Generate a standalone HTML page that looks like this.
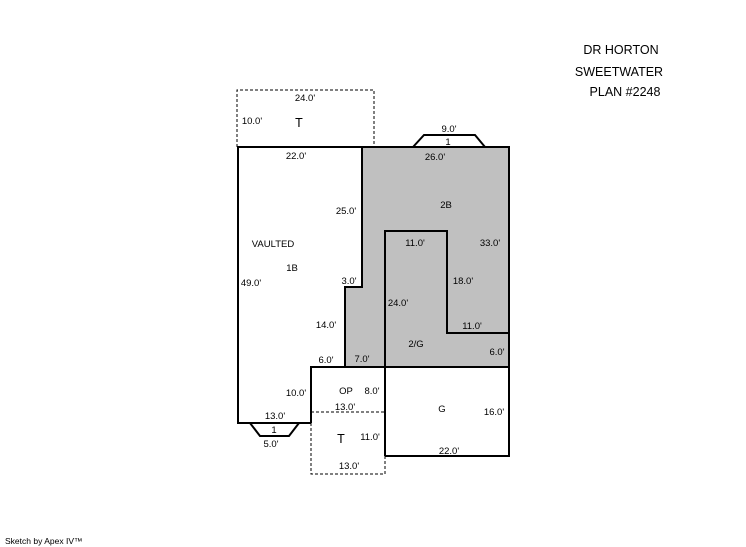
<!DOCTYPE html>
<html><head><meta charset="utf-8"><style>
html,body{margin:0;padding:0;background:#fff;width:746px;height:547px;overflow:hidden}
svg{display:block}
text{font-family:"Liberation Sans",Arial,sans-serif;font-size:9.5px;fill:#000;text-anchor:middle}
.t{font-size:12.5px}
</style></head><body>
<svg width="746" height="547" viewBox="0 0 746 547">
<path d="M362,147 H509 V367 H345 V287 H362 Z" fill="#c0c0c0"/>
<g fill="none" stroke="#000" stroke-width="2">
<path d="M311,423 H238 V147 H509 V456 H385"/>
<path d="M362,147 V287 H345 V367"/>
<path d="M311,423 V367 H509"/>
<path d="M385,367 V456"/>
<path d="M385,367 V231 H447 V333 H509"/>
<path d="M413,147 L424,135 H475 L485,147"/>
<path d="M250,423 L260,436 H289 L299,423"/>
</g>
<g fill="none" stroke="#000" stroke-width="1" stroke-dasharray="3,2">
<path d="M237,147 V90 H374 V147"/>
<path d="M311,412 H385"/>
<path d="M311,423 V474 H385 V456"/>
</g>
<text class="t" x="621" y="54">DR HORTON</text>
<text class="t" x="619" y="76">SWEETWATER</text>
<text class="t" x="625" y="96">PLAN #2248</text>
<text x="305" y="101">24.0'</text>
<text x="252" y="124">10.0'</text>
<text class="t" x="299" y="127">T</text>
<text x="449" y="132">9.0'</text>
<text x="448" y="145">1</text>
<text x="296" y="159">22.0'</text>
<text x="435" y="160">26.0'</text>
<text x="446" y="208">2B</text>
<text x="346" y="214">25.0'</text>
<text x="273" y="247">VAULTED</text>
<text x="415" y="246">11.0'</text>
<text x="490" y="246">33.0'</text>
<text x="292" y="271">1B</text>
<text x="251" y="286">49.0'</text>
<text x="349" y="284">3.0'</text>
<text x="463" y="284">18.0'</text>
<text x="398" y="306">24.0'</text>
<text x="326" y="328">14.0'</text>
<text x="472" y="329">11.0'</text>
<text x="416" y="347">2/G</text>
<text x="497" y="355">6.0'</text>
<text x="326" y="363">6.0'</text>
<text x="362" y="362">7.0'</text>
<text x="346" y="394">OP</text>
<text x="372" y="394">8.0'</text>
<text x="296" y="396">10.0'</text>
<text x="345" y="410">13.0'</text>
<text x="442" y="412">G</text>
<text x="494" y="415">16.0'</text>
<text x="275" y="419">13.0'</text>
<text x="274" y="433">1</text>
<text x="271" y="447">5.0'</text>
<text class="t" x="341" y="443">T</text>
<text x="370" y="440">11.0'</text>
<text x="449" y="454">22.0'</text>
<text x="349" y="469">13.0'</text>
<text x="5" y="544" style="text-anchor:start;font-size:8.5px">Sketch by Apex IV™</text>
</svg>
</body></html>
